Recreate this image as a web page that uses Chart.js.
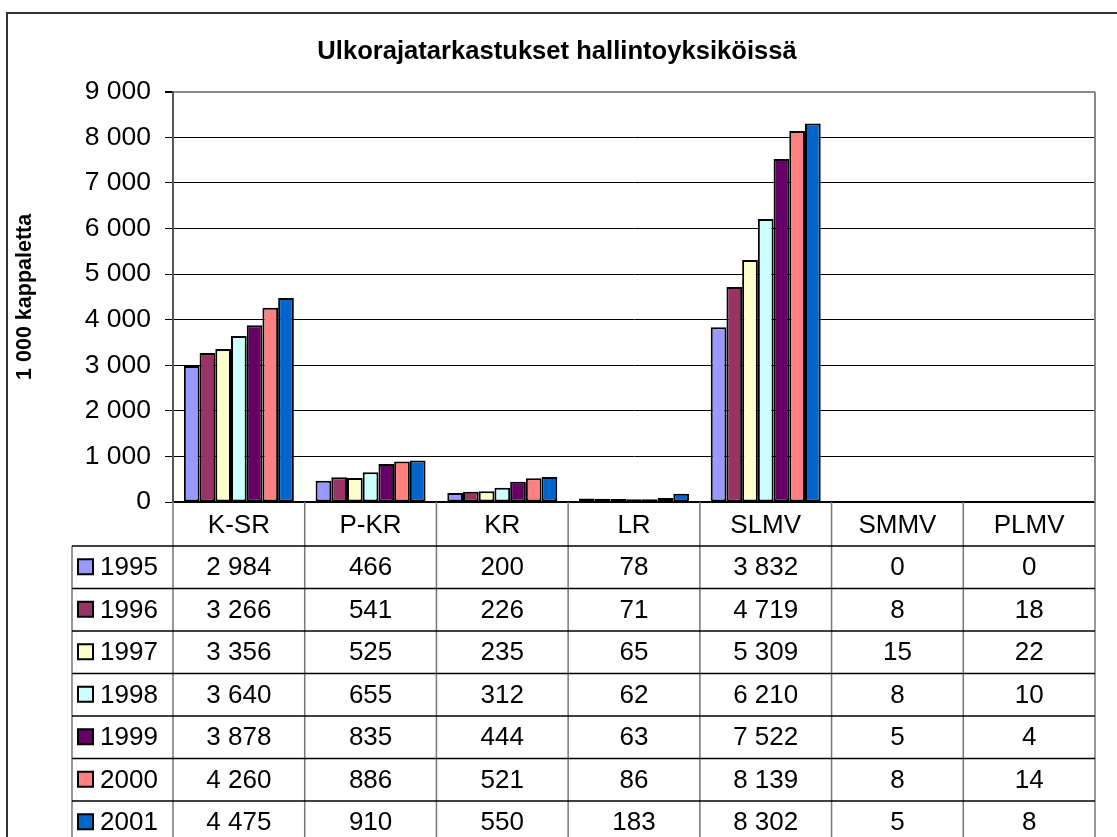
<!DOCTYPE html>
<html>
<head>
<meta charset="utf-8">
<script src="https://cdn.jsdelivr.net/npm/chart.js@4"></script>
<style>
  body { margin: 0; background: #fff; }
  #wrap { position: relative; width: 1117px; height: 837px; }
</style>
</head>
<body>
<div id="wrap"><canvas id="stats"></canvas></div>
<script>
const categories = ["K-SR", "P-KR", "KR", "LR", "SLMV", "SMMV", "PLMV"];
const years = ["1995", "1996", "1997", "1998", "1999", "2000", "2001"];
const v1995 = [2984, 466, 200, 78, 3832, 0, 0];
const v1996 = [3266, 541, 226, 71, 4719, 8, 18];
const v1997 = [3356, 525, 235, 65, 5309, 15, 22];
const v1998 = [3640, 655, 312, 62, 6210, 8, 10];
const v1999 = [3878, 835, 444, 63, 7522, 5, 4];
const v2000 = [4260, 886, 521, 86, 8139, 8, 14];
const v2001 = [4475, 910, 550, 183, 8302, 5, 8];
const yTicks = [0, 1000, 2000, 3000, 4000, 5000, 6000, 7000, 8000, 9000];

const seriesValues = [v1995, v1996, v1997, v1998, v1999, v2000, v2001];
const colors = ["#9999FF", "#993366", "#FFFFCC", "#CCFFFF", "#660066", "#FF8080", "#0066CC"];
const FONT = "'Liberation Sans', Arial, sans-serif";

function fmt(n) {
  return String(n).replace(/\B(?=(\d{3})+(?!\d))/g, " ");
}

// draws the frame, plot border and the data table under the axis
const tablePlugin = {
  id: "dataTable",
  beforeDraw(chart) {
    const ctx = chart.ctx;
    ctx.save();
    ctx.strokeStyle = "#333";
    ctx.lineWidth = 2;
    ctx.strokeRect(7, 13, 1200, 900);
    ctx.restore();
  },
  afterDraw(chart) {
    const ctx = chart.ctx;
    const area = chart.chartArea;
    const x = chart.scales.x;
    const colW = (area.right - area.left) / categories.length;
    const headerBottom = area.bottom + 44;
    const rowH = 42.5;
    const legendLeft = 72;
    const bottom = chart.height + 5;

    ctx.save();
    // plot area right border
    ctx.strokeStyle = "#888";
    ctx.lineWidth = 2;
    ctx.beginPath();
    ctx.moveTo(area.right, area.top);
    ctx.lineTo(area.right, area.bottom);
    ctx.stroke();

    // vertical column lines
    ctx.strokeStyle = "#777";
    ctx.lineWidth = 1.5;
    for (let j = 0; j <= categories.length; j++) {
      const px = area.left + j * colW;
      ctx.beginPath();
      ctx.moveTo(px, area.bottom);
      ctx.lineTo(px, bottom);
      ctx.stroke();
    }
    ctx.beginPath();
    ctx.moveTo(legendLeft, headerBottom);
    ctx.lineTo(legendLeft, bottom);
    ctx.stroke();

    // horizontal row lines
    ctx.strokeStyle = "#000";
    ctx.lineWidth = 1.5;
    for (let k = 0; k < years.length; k++) {
      const py = headerBottom + k * rowH;
      ctx.beginPath();
      ctx.moveTo(legendLeft, py);
      ctx.lineTo(area.right, py);
      ctx.stroke();
    }

    // rows
    ctx.font = "26px " + FONT;
    ctx.textBaseline = "middle";
    years.forEach((yr, i) => {
      const cy = headerBottom + i * rowH + rowH / 2;
      ctx.fillStyle = colors[i];
      ctx.fillRect(78, cy - 8, 15, 15);
      ctx.strokeStyle = "#000";
      ctx.lineWidth = 2;
      ctx.strokeRect(78, cy - 8, 15, 15);
      ctx.fillStyle = "#000";
      ctx.textAlign = "left";
      ctx.fillText(yr, 100, cy + 1);
      ctx.textAlign = "center";
      seriesValues[i].forEach((v, j) => {
        ctx.fillText(fmt(v), x.getPixelForValue(j), cy + 1);
      });
    });
    ctx.restore();
  },
};

Chart.defaults.color = "#000";
Chart.defaults.font.family = FONT;

const ctx = document.getElementById("stats").getContext("2d");
new Chart(ctx, {
  type: "bar",
  data: {
    labels: categories,
    datasets: years.map((yr, i) => ({
      label: yr,
      data: seriesValues[i],
      backgroundColor: colors[i],
      borderColor: "#000",
      borderWidth: 2,
      borderSkipped: false,
      barPercentage: 1,
      categoryPercentage: 0.835,
    })),
  },
  options: {
    responsive: true,
    maintainAspectRatio: false,
    animation: false,
    layout: { padding: { left: 19, right: 22, top: 37, bottom: 291 } },
    plugins: {
      legend: { display: false },
      tooltip: { enabled: false },
      title: {
        display: true,
        text: "Ulkorajatarkastukset hallintoyksiköissä",
        font: { size: 25.6, weight: "bold" },
        color: "#000",
        padding: { top: 0, bottom: 24 },
      },
    },
    scales: {
      x: {
        grid: { display: false, drawTicks: false },
        border: { display: true, color: "#000", width: 1.5 },
        ticks: { font: { size: 26 }, padding: 8, color: "#000" },
        afterFit: (s) => { s.height = 44; },
      },
      y: {
        min: 0,
        max: 9000,
        afterBuildTicks: (s) => { s.ticks = yTicks.map((v) => ({ value: v })); },
        grid: {
          color: (c) => (c.tick && c.tick.value === 9000 ? "#888" : "#000"),
          lineWidth: (c) => (c.tick && c.tick.value === 9000 ? 2 : 1),
          tickLength: 8,
          tickColor: "#000",
        },
        border: { display: true, color: "#555", width: 2 },
        ticks: { font: { size: 26.5 }, padding: 14, color: "#000", callback: (v) => fmt(v) },
        title: {
          display: true,
          text: "1 000 kappaletta",
          font: { size: 21.5, weight: "bold" },
          color: "#000",
          padding: { top: -6.9, bottom: 0 },
        },
        afterFit: (s) => { s.width = 154; },
      },
    },
  },
  plugins: [tablePlugin],
});
</script>
</body>
</html>
